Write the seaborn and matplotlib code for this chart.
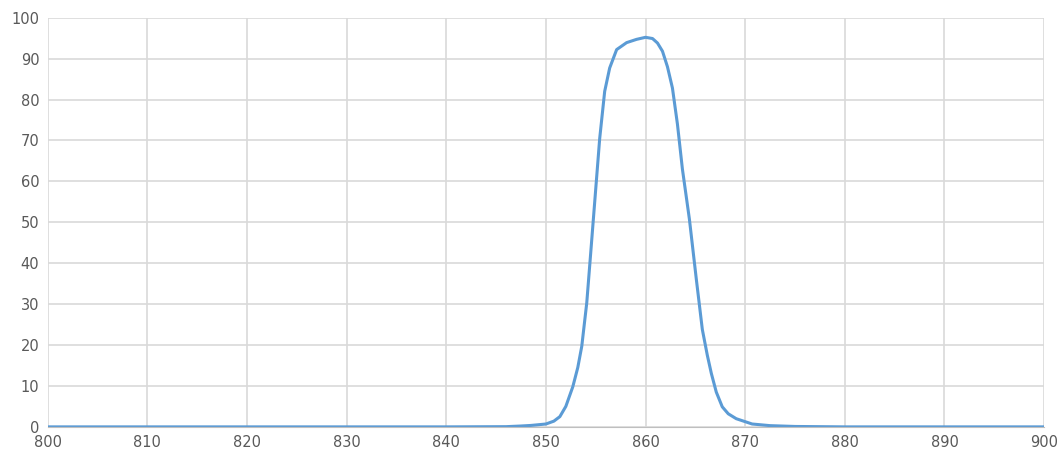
import matplotlib
matplotlib.use("Agg")
import matplotlib.pyplot as plt
import seaborn as sns
import pandas as pd

wavelength = [800, 820, 840, 846, 847.4, 848.5, 850, 850.8, 851.4, 852.0, 852.7, 853.2, 853.6, 854.1, 854.5, 854.9,
              855.4, 855.9, 856.4, 857.1, 858.1, 859.1, 860.0, 860.7, 861.2, 861.7, 862.2, 862.7, 863.2, 863.7,
              864.4, 865.1, 865.7, 866.2, 866.6, 867.1, 867.7, 868.3, 869.1, 870.7, 872.5, 875, 880, 900]
transmission = [0, 0, 0, 0.05, 0.2, 0.35, 0.7, 1.4, 2.5, 5.0, 9.8, 14.5, 19.7, 30.3, 42.6, 55,
                70.5, 82, 87.7, 92.2, 93.9, 94.7, 95.2, 94.9, 93.8, 91.8, 88.0, 82.8, 74.0, 63,
                50.8, 36, 23.8, 17.5, 13.1, 8.5, 4.9, 3.2, 2.0, 0.7, 0.3, 0.1, 0, 0]

df = pd.DataFrame({"wl": wavelength, "t": transmission})

sns.set_style("white")
fig, ax = plt.subplots(figsize=(10.6, 4.65), dpi=100)
fig.subplots_adjust(left=0.045, right=0.985, top=0.962, bottom=0.082)
sns.lineplot(data=df, x="wl", y="t", ax=ax, color="#5b9bd5", linewidth=2.2)
ax.set_xlim(800, 900)
ax.set_ylim(0, 100)
ax.set_xticks(range(800, 901, 10))
ax.set_yticks(range(0, 101, 10))
ax.grid(True, color="#d9d9d9", linewidth=1.2)
ax.set_axisbelow(True)
ax.set_xlabel("")
ax.set_ylabel("")
for s in ["top", "right", "left"]:
    ax.spines[s].set_visible(False)
ax.spines["bottom"].set_color("#bfbfbf")
ax.tick_params(axis="both", length=0, labelsize=10.5, colors="#595959", pad=6)
fig.savefig("out.png")
